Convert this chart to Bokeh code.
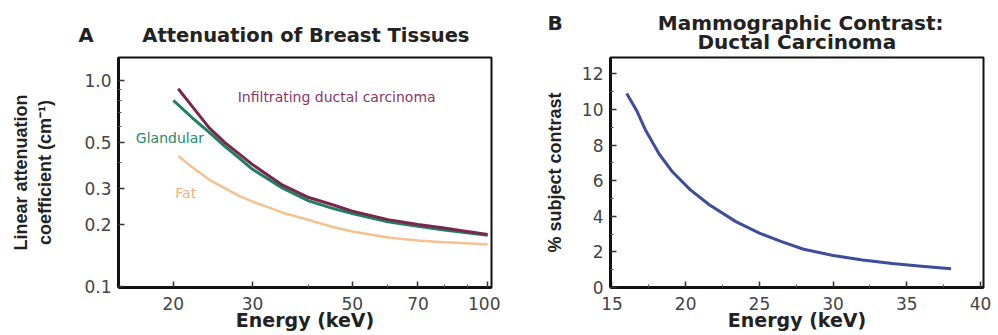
from bokeh.plotting import figure
from bokeh.layouts import row
from bokeh.models import Range1d, FixedTicker, Label, CustomJSTickFormatter
from bokeh.embed import file_html
from bokeh.resources import INLINE

# ---------------- Data ----------------
# Panel A: linear attenuation coefficient (cm^-1) vs energy (keV)
carc_e = [20.5, 22, 24, 26, 28, 30, 35, 40, 45, 50, 60, 70, 80, 90, 100]
carc_mu = [0.91, 0.75, 0.59, 0.50, 0.44, 0.39, 0.31, 0.27, 0.25, 0.232, 0.211, 0.200, 0.192, 0.185, 0.179]
gland_e = [20, 22, 24, 26, 28, 30, 35, 40, 45, 50, 60, 70, 80, 90, 100]
gland_mu = [0.80, 0.66, 0.56, 0.48, 0.42, 0.37, 0.30, 0.26, 0.24, 0.226, 0.206, 0.196, 0.188, 0.182, 0.177]
fat_e = [20.5, 22, 24, 26, 28, 30, 35, 40, 45, 50, 60, 70, 80, 90, 100]
fat_mu = [0.43, 0.38, 0.33, 0.30, 0.275, 0.258, 0.228, 0.210, 0.195, 0.185, 0.173, 0.167, 0.164, 0.162, 0.160]

a_xticks = [20, 30, 50, 70, 100]
a_xminor = [40, 60, 80, 90]
a_yticks = [0.1, 0.2, 0.3, 0.5, 1.0]
a_yminor = [0.4, 0.6, 0.7, 0.8, 0.9]

# Panel B: % subject contrast vs energy (keV)
con_e = [16.0, 16.7, 17.3, 18.2, 19.1, 20.3, 21.6, 23.4, 25.0, 26.5, 28.0, 30.0, 32.0, 34.0, 36.0, 38.0]
con_v = [10.9, 9.9, 8.8, 7.5, 6.5, 5.5, 4.65, 3.7, 3.05, 2.58, 2.15, 1.8, 1.55, 1.35, 1.2, 1.05]

b_xticks = [15, 20, 25, 30, 35, 40]
b_xminor = [17.5, 22.5, 27.5, 32.5, 37.5]
b_yticks = [0, 2, 4, 6, 8, 10, 12]
b_yminor = [1, 3, 5, 7, 9, 11]

TICK_FONT = "DejaVu Sans"
BOLD_H = "DejaVu Sans"
BOLD_V = "Liberation Sans"
EM = "\u2003"
EN = "\u2002"
QS = "\u2005"


def style_axes(p):
    for ax in (p.xaxis[0], p.yaxis[0]):
        ax.axis_line_width = 3
        ax.axis_line_color = "#111111"
        ax.major_tick_in = 6
        ax.major_tick_out = 0
        ax.minor_tick_in = 3
        ax.minor_tick_out = 0
        ax.major_tick_line_color = "#333333"
        ax.minor_tick_line_color = "#555555"
        ax.major_tick_line_width = 1.5
        ax.major_label_text_font = TICK_FONT
        ax.major_label_text_font_size = "17px"
        ax.major_label_text_color = "#444444"
        ax.major_label_standoff = 7
    p.xaxis[0].major_label_standoff = 9
    p.xaxis[0].axis_label_text_font = BOLD_H
    p.xaxis[0].axis_label_text_font_size = "19px"
    p.xaxis[0].axis_label_text_font_style = "bold"
    p.xaxis[0].axis_label_text_color = "#222222"
    p.xaxis[0].axis_label_standoff = -4
    p.yaxis[0].axis_label_text_font = BOLD_V
    p.yaxis[0].axis_label_text_font_size = "18px"
    p.yaxis[0].axis_label_text_font_style = "bold"
    p.yaxis[0].axis_label_text_color = "#222222"
    p.grid.visible = False
    p.outline_line_color = "#111111"
    p.outline_line_width = 2
    p.background_fill_color = "white"
    p.border_fill_color = "white"


def style_title(t, size):
    t.text_font = BOLD_H
    t.text_font_size = size
    t.text_font_style = "bold"
    t.text_color = "#222222"
    t.align = "left"


# ---------------- Panel A ----------------
pA = figure(width=500, height=334, x_axis_type="log", y_axis_type="log",
            x_range=Range1d(15.1, 102), y_range=Range1d(0.0989, 1.29),
            output_backend="svg", toolbar_location=None,
            min_border_left=118, min_border_right=9, min_border_top=57, min_border_bottom=47)
pA.title.text = "A" + EM + EM + EN + "Attenuation of Breast Tissues"
style_title(pA.title, "19.5px")
pA.title.offset = -40
pA.title.standoff = 21

pA.xaxis[0].ticker = FixedTicker(ticks=a_xticks, minor_ticks=a_xminor)
pA.yaxis[0].ticker = FixedTicker(ticks=a_yticks, minor_ticks=a_yminor)
pA.xaxis[0].formatter = CustomJSTickFormatter(code="return tick.toFixed(0);")
pA.yaxis[0].formatter = CustomJSTickFormatter(code="return tick.toFixed(1);")
pA.xaxis[0].axis_label = "Energy (keV)"
pA.yaxis[0].axis_label = "Linear attenuation\ncoefficient (cm\u207b\u00b9)"
style_axes(pA)
pA.yaxis[0].axis_label_standoff = 26

pA.line(fat_e, fat_mu, line_color="#f4c290", line_width=2.5)
pA.line(gland_e, gland_mu, line_color="#1e8060", line_width=3)
pA.line(carc_e, carc_mu, line_color="#7a2550", line_width=3)

pA.add_layout(Label(x=27.8, y=0.827, text="Infiltrating ductal carcinoma", text_font=TICK_FONT,
                    text_font_size="14px", text_color="#8a3566", text_baseline="middle"))
pA.add_layout(Label(x=16.5, y=0.523, text="Glandular", text_font=TICK_FONT,
                    text_font_size="14px", text_color="#2a8a68", text_baseline="middle"))
pA.add_layout(Label(x=20.2, y=0.283, text="Fat", text_font=TICK_FONT,
                    text_font_size="14px", text_color="#f0b27a", text_baseline="middle"))

# ---------------- Panel B ----------------
pB = figure(width=496, height=334,
            x_range=Range1d(14.9, 40.2), y_range=Range1d(0, 12.92),
            output_backend="svg", toolbar_location=None,
            min_border_left=110, min_border_right=13, min_border_top=57, min_border_bottom=47)
pB.title.text = ("B" + EM * 4 + EN + QS + "Mammographic Contrast:\n"
                 + EM * 7 + EN + "Ductal Carcinoma")
style_title(pB.title, "20px")
pB.title.text_line_height = 0.8
pB.title.offset = -63
pB.title.standoff = 7

pB.xaxis[0].ticker = FixedTicker(ticks=b_xticks, minor_ticks=b_xminor)
pB.yaxis[0].ticker = FixedTicker(ticks=b_yticks, minor_ticks=b_yminor)
pB.xaxis[0].axis_label = "Energy (keV)"
pB.yaxis[0].axis_label = "% subject contrast"
style_axes(pB)
pB.yaxis[0].axis_label_standoff = 14

pB.line(con_e, con_v, line_color="#3d4c9c", line_width=3)

layout = row(pA, pB)
open("out.html", "w").write(file_html(layout, INLINE))
